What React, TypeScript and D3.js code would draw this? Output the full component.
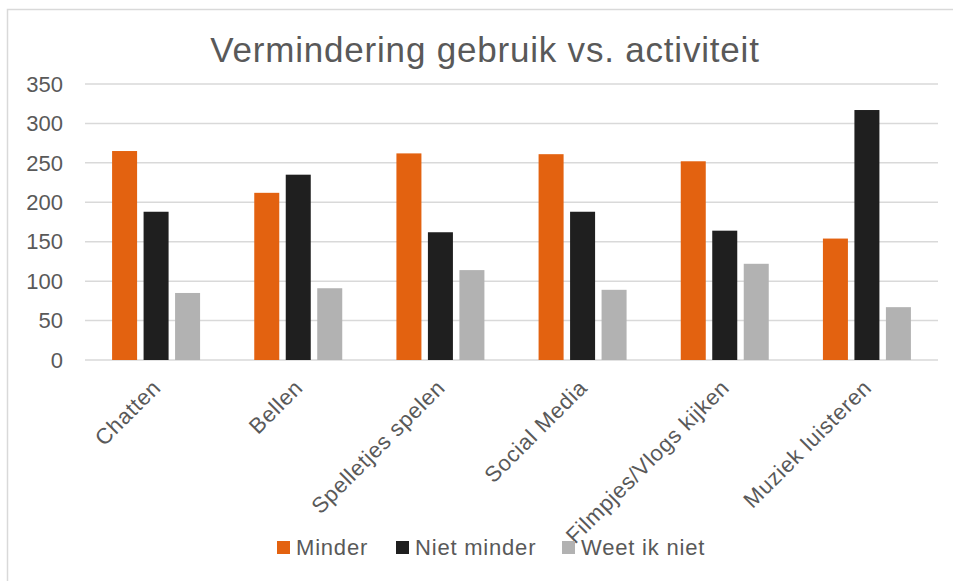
import React, { useEffect, useRef } from 'react';
import * as d3 from 'd3';

const categories = ['Chatten', 'Bellen', 'Spelletjes spelen', 'Social Media', 'Filmpjes/Vlogs kijken', 'Muziek luisteren'];
const seriesNames = ['Minder', 'Niet minder', 'Weet ik niet'];
const minder = [265, 212, 262, 261, 252, 154];
const nietMinder = [188, 235, 162, 188, 164, 317];
const weetIkNiet = [85, 91, 114, 89, 122, 67];
const yTicks = [0, 50, 100, 150, 200, 250, 300, 350];

const colors = ['#e36210', '#1f1f1f', '#b2b2b2'];
const textColor = '#595959';
const font = '"Liberation Sans", Arial, sans-serif';

const W = 953;
const H = 581;
const plot = { left: 85, right: 938, top: 84, bottom: 360 };

const App = () => {
  const svgRef = useRef<SVGSVGElement>(null);

  useEffect(() => {
    const svg = d3.select(svgRef.current);
    svg.selectAll('*').remove();

    const values = [minder, nietMinder, weetIkNiet];

    // chart frame
    svg.append('rect')
      .attr('x', 7.5).attr('y', 9.5)
      .attr('width', W + 20).attr('height', H + 20)
      .attr('fill', 'white')
      .attr('stroke', '#d9d9d9')
      .attr('stroke-width', 1.5);

    const x0 = d3.scaleBand()
      .domain(categories)
      .range([plot.left, plot.right])
      .padding(0);

    const x1 = d3.scaleBand()
      .domain(seriesNames)
      .range([0, x0.bandwidth()])
      .paddingInner(0.206)
      .paddingOuter(0.86);

    const y = d3.scaleLinear()
      .domain([0, 350])
      .range([plot.bottom, plot.top]);

    // gridlines
    svg.append('g')
      .selectAll('line')
      .data(yTicks)
      .enter()
      .append('line')
      .attr('x1', plot.left)
      .attr('x2', plot.right)
      .attr('y1', d => y(d))
      .attr('y2', d => y(d))
      .attr('stroke', '#d9d9d9')
      .attr('stroke-width', 1.5);

    // y labels
    svg.append('g')
      .selectAll('text')
      .data(yTicks)
      .enter()
      .append('text')
      .attr('x', 63)
      .attr('y', d => y(d))
      .attr('dy', '0.35em')
      .attr('text-anchor', 'end')
      .attr('font-family', font)
      .attr('font-size', 22)
      .attr('fill', textColor)
      .text(d => d);

    // bars
    const groups = svg.append('g')
      .selectAll('g')
      .data(categories)
      .enter()
      .append('g')
      .attr('transform', d => `translate(${x0(d)},0)`);

    groups.selectAll('rect')
      .data((_, i) => seriesNames.map((s, k) => ({ s, k, v: values[k][i] })))
      .enter()
      .append('rect')
      .attr('x', d => x1(d.s)!)
      .attr('y', d => y(d.v))
      .attr('width', x1.bandwidth())
      .attr('height', d => plot.bottom - y(d.v))
      .attr('fill', d => colors[d.k]);

    // x labels
    svg.append('g')
      .selectAll('text')
      .data(categories)
      .enter()
      .append('text')
      .attr('transform', d => `translate(${x0(d)! + x0.bandwidth() / 2 + 6},${plot.bottom + 29}) rotate(-45)`)
      .attr('text-anchor', 'end')
      .attr('font-family', font)
      .attr('font-size', 22)
      .attr('letter-spacing', 0.7)
      .attr('fill', textColor)
      .text(d => d);

    // title
    svg.append('text')
      .attr('x', 485)
      .attr('y', 62)
      .attr('text-anchor', 'middle')
      .attr('font-family', font)
      .attr('font-size', 35)
      .attr('letter-spacing', 0.8)
      .attr('fill', textColor)
      .text('Vermindering gebruik vs. activiteit');

    // legend
    const legendX = [277, 396, 562];
    const legend = svg.append('g')
      .selectAll('g')
      .data(seriesNames)
      .enter()
      .append('g')
      .attr('transform', (_, i) => `translate(${legendX[i]},541)`);
    legend.append('rect')
      .attr('width', 13).attr('height', 13)
      .attr('fill', (_, i) => colors[i]);
    legend.append('text')
      .attr('x', 19)
      .attr('y', 14)
      .attr('font-family', font)
      .attr('font-size', 22)
      .attr('letter-spacing', 0.8)
      .attr('fill', textColor)
      .text(d => d);
  }, []);

  return (
    <div style={{ position: 'absolute', left: 0, top: 0 }}>
      <svg ref={svgRef} width={W} height={H} style={{ display: 'block' }}></svg>
    </div>
  );
};

export default App;
